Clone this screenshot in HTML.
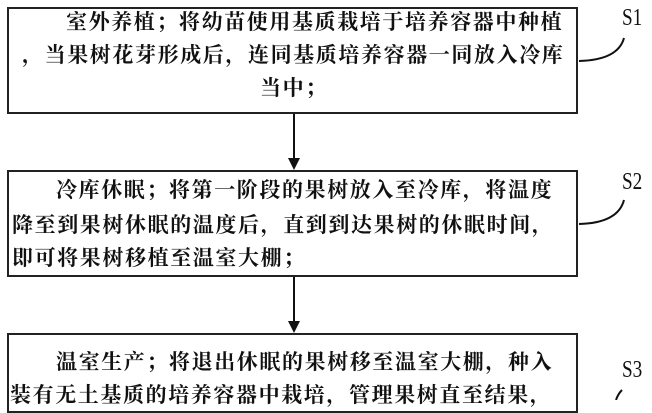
<!DOCTYPE html>
<html><head><meta charset="utf-8"><style>
body{margin:0;width:652px;height:400px;background:#fff;position:relative;overflow:hidden;font-family:"Liberation Serif","Noto Serif CJK SC",serif;}
.box{position:absolute;left:7px;width:571px;border:2px solid #222;box-sizing:border-box;}
.t{position:absolute;font-size:21px;letter-spacing:1.6px;white-space:nowrap;color:#111;font-weight:700;line-height:24px;}
.s{position:absolute;font-size:24px;color:#111;font-family:"Liberation Serif",serif;transform:scaleX(0.8);transform-origin:left;}
</style></head><body>
<div class="box" style="top:7px;height:107px"></div>
<div class="box" style="top:170px;height:107px"></div>
<div class="box" style="top:333px;height:80px"></div>
<div class="t" style="left:66px;top:10px">室外养植；将幼苗使用基质栽培于培养容器中种植</div>
<div class="t" style="left:22px;top:43px">，当果树花芽形成后，连同基质培养容器一同放入冷库</div>
<div class="t" style="left:260px;top:76px">当中；</div>
<div class="t" style="left:56px;top:178px">冷库休眠；将第一阶段的果树放入至冷库，将温度</div>
<div class="t" style="left:12px;top:213px">降至到果树休眠的温度后，直到到达果树的休眠时间，</div>
<div class="t" style="left:12px;top:246px">即可将果树移植至温室大棚；</div>
<div class="t" style="left:56px;top:350px">温室生产；将退出休眠的果树移至温室大棚，种入</div>
<div class="t" style="left:10px;top:383px">装有无土基质的培养容器中栽培，管理果树直至结果，</div>
<div class="s" style="left:622px;top:5px">S1</div>
<div class="s" style="left:622px;top:169px">S2</div>
<div class="s" style="left:622px;top:357px">S3</div>
<svg width="652" height="400" style="position:absolute;left:0;top:0">
<g stroke="#111" stroke-width="2" fill="none">
<line x1="294" y1="114" x2="294" y2="160"/>
<line x1="294" y1="277" x2="294" y2="323"/>
<path d="M579 61 Q618 60 624 38"/>
<path d="M579 224 Q618 223 624 200"/>
<path d="M616 400 Q618 394 622 390"/>
</g>
<polygon points="288,158 300,158 294,170" fill="#111"/>
<polygon points="288,321 300,321 294,333" fill="#111"/>
</svg>
</body></html>
